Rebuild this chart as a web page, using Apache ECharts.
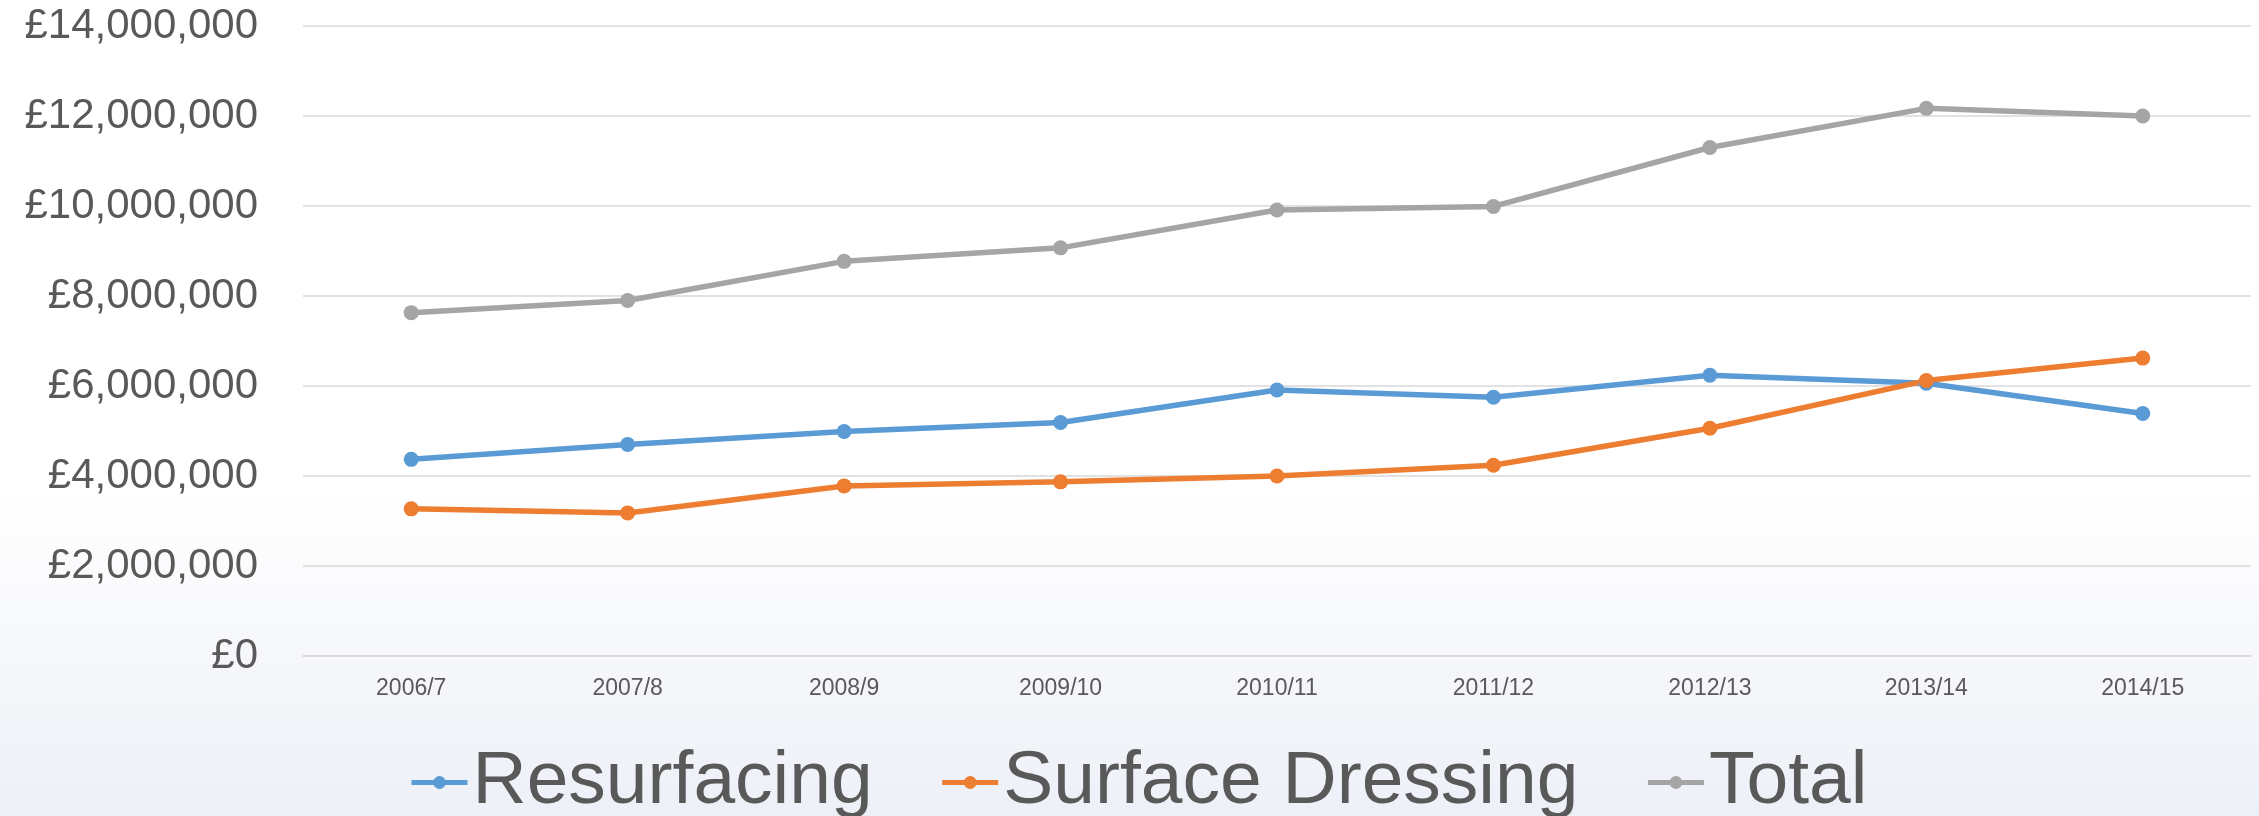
<!DOCTYPE html>
<html>
<head>
<meta charset="utf-8">
<script src="https://cdn.jsdelivr.net/npm/echarts@6/dist/echarts.min.js"></script>
<style>
  html, body { margin: 0; padding: 0; background: #ffffff; }
  #chart { width: 2259px; height: 816px; }
</style>
</head>
<body>
<div id="chart"></div>
<script>
const categories = ['2006/7', '2007/8', '2008/9', '2009/10', '2010/11', '2011/12', '2012/13', '2013/14', '2014/15'];
const resurfacing = [4370000, 4700000, 4990000, 5190000, 5910000, 5750000, 6240000, 6060000, 5390000];
const surfaceDressing = [3270000, 3180000, 3780000, 3870000, 4000000, 4240000, 5060000, 6120000, 6620000];
const total = [7630000, 7900000, 8770000, 9070000, 9910000, 9990000, 11300000, 12170000, 12000000];
const seriesNames = ['Resurfacing', 'Surface Dressing', 'Total'];
const seriesColors = ['#5B9BD5', '#ED7D31', '#A5A5A5'];

const chart = echarts.init(document.getElementById('chart'), null, { renderer: 'canvas' });

function money(v) {
  return '£' + String(Math.round(v)).replace(/\B(?=(\d{3})+(?!\d))/g, ',');
}

function lineSeries(name, data, color) {
  return {
    name: name,
    type: 'line',
    data: data,
    symbol: 'circle',
    symbolSize: 15,
    lineStyle: { color: color, width: 5.5 },
    itemStyle: { color: color },
    emphasis: { disabled: true },
    animation: false
  };
}

chart.setOption({
  backgroundColor: {
    type: 'linear', x: 0, y: 0, x2: 0, y2: 1,
    colorStops: [
      { offset: 0, color: '#ffffff' },
      { offset: 0.6, color: '#ffffff' },
      { offset: 1, color: '#edf0f7' }
    ]
  },
  animation: false,
  grid: { left: 303, right: 8, top: 26, bottom: 160, containLabel: false },
  legend: {
    data: seriesNames,
    left: 404,
    top: 740,
    itemWidth: 56,
    itemHeight: 16,
    itemGap: 67,
    lineStyle: { width: 5 },
    textStyle: { fontFamily: 'Liberation Sans', fontSize: 75, color: '#595959' }
  },
  xAxis: {
    type: 'category',
    data: categories,
    boundaryGap: true,
    axisLine: { lineStyle: { color: '#d9d9d9', width: 1.5 } },
    axisTick: { show: false },
    axisLabel: { fontFamily: 'Liberation Sans', fontSize: 23, color: '#595959', margin: 21 }
  },
  yAxis: {
    type: 'value',
    min: 0,
    max: 14000000,
    interval: 2000000,
    axisLine: { show: false },
    axisTick: { show: false },
    splitLine: { lineStyle: { color: '#d9d9d9', width: 1.5 } },
    axisLabel: {
      fontFamily: 'Liberation Sans',
      fontSize: 42, color: '#595959', margin: 45,
      formatter: money
    }
  },
  series: [
    lineSeries(seriesNames[0], resurfacing, seriesColors[0]),
    lineSeries(seriesNames[1], surfaceDressing, seriesColors[1]),
    lineSeries(seriesNames[2], total, seriesColors[2])
  ]
});
</script>
</body>
</html>
